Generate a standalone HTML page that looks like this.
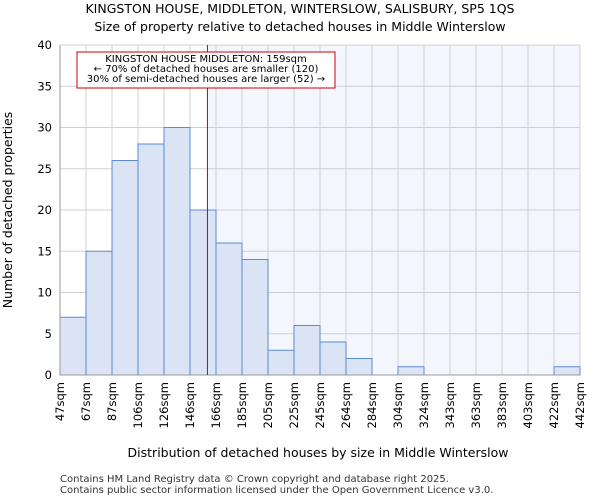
<!DOCTYPE html>
<html><head><meta charset="utf-8"><style>
body{margin:0;background:#fff;font-family:"DejaVu Sans","Liberation Sans",sans-serif}
</style></head><body>
<svg width="600" height="500" xmlns="http://www.w3.org/2000/svg" font-family="DejaVu Sans, Liberation Sans, sans-serif">
<text x="300" y="13" text-anchor="middle" font-size="12.5">KINGSTON HOUSE, MIDDLETON, WINTERSLOW, SALISBURY, SP5 1QS</text>
<text x="300" y="31" text-anchor="middle" font-size="12.5">Size of property relative to detached houses in Middle Winterslow</text>
<g id="plot"></g>
<text x="318" y="457" text-anchor="middle" font-size="12.5">Distribution of detached houses by size in Middle Winterslow</text>
<text x="12" y="210" text-anchor="middle" font-size="12.5" transform="rotate(-90 12 210)">Number of detached properties</text>
<text x="60" y="482" font-size="10" fill="#333">Contains HM Land Registry data © Crown copyright and database right 2025.</text>
<text x="60" y="493" font-size="10" fill="#333">Contains public sector information licensed under the Open Government Licence v3.0.</text>
</svg>
<script>
const categories=["47sqm","67sqm","87sqm","106sqm","126sqm","146sqm","166sqm","185sqm","205sqm","225sqm","245sqm","264sqm","284sqm","304sqm","324sqm","343sqm","363sqm","383sqm","403sqm","422sqm","442sqm"];
const counts=[7,15,26,28,30,20,16,14,3,6,4,2,0,1,0,0,0,0,0,1];
const yTicks=[0,5,10,15,20,25,30,35,40];
const propertySize=159;
const binStart=47,binWidth=19.75;
const NS="http://www.w3.org/2000/svg";
const L=60,R=580,T=45,B=375;
const x=i=>L+(R-L)*i/counts.length;
const y=v=>B-(B-T)*v/40;
const g=document.getElementById('plot');
function el(t,a){const e=document.createElementNS(NS,t);for(const k in a)e.setAttribute(k,a[k]);g.appendChild(e);return e;}
const px=x((propertySize-binStart)/binWidth);
let e=el('rect',{x:px,y:T,width:R-px,height:B-T,fill:'#f3f6fd'});


for(let i=0;i<=counts.length;i++){e=el('line',{x1:x(i),x2:x(i),y1:T,y2:B,stroke:'#d0d0d0','stroke-width':1});

}
yTicks.forEach(v=>{e=el('line',{x1:L,x2:R,y1:y(v),y2:y(v),stroke:'#d0d0d0','stroke-width':1});


const t=el('text',{x:L-8,y:y(v)+4,'text-anchor':'end','font-size':11.5});t.textContent=v;

});
counts.forEach((c,i)=>{if(c<=0)return;e=el('rect',{x:x(i),y:y(c),width:x(i+1)-x(i),height:B-y(c),fill:'#dae4f5',stroke:'#5b8bd4','stroke-width':1});

});
categories.forEach((c,i)=>{const xx=x(i)+4;const t=el('text',{x:xx,y:382,'text-anchor':'end','font-size':11.5,transform:`rotate(-90 ${xx} 382)`});t.textContent=c;

});
e=el('line',{x1:L,x2:L,y1:T,y2:B,stroke:'#999'});


e=el('line',{x1:L,x2:R,y1:B,y2:B,stroke:'#999'});


e=el('line',{x1:px,x2:px,y1:T,y2:B,stroke:'#c00','stroke-width':1});


e=el('rect',{x:77,y:52,width:258,height:36,fill:'#fff',stroke:'#c00','stroke-width':1});


["KINGSTON HOUSE MIDDLETON: 159sqm","← 70% of detached houses are smaller (120)","30% of semi-detached houses are larger (52) →"].forEach((s,i)=>{const t=el('text',{x:206,y:62+i*10,'text-anchor':'middle','font-size':10,textLength:i==0?0:0});t.removeAttribute('textLength');t.textContent=s;

});
</script>
</body></html>
